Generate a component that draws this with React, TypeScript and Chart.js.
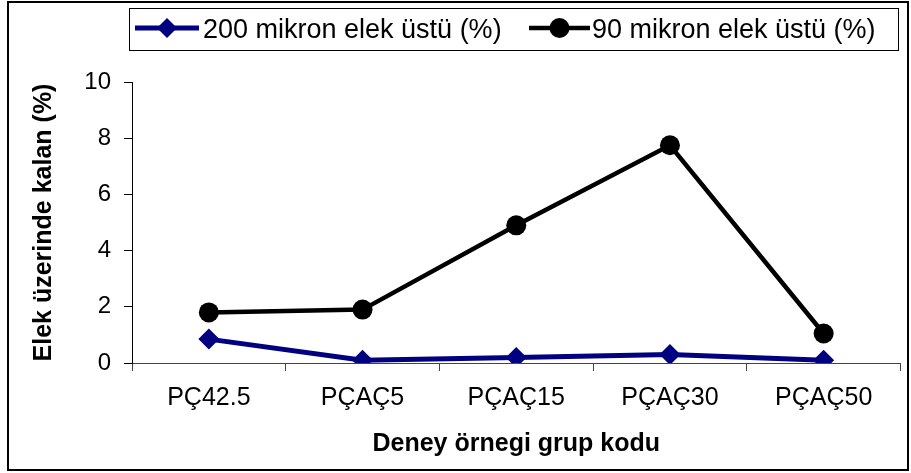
import React, { useEffect, useRef } from 'react';
import { Chart, registerables } from 'chart.js';

Chart.register(...registerables);

const categories = ['PÇ42.5', 'PÇAÇ5', 'PÇAÇ15', 'PÇAÇ30', 'PÇAÇ50'];
const series200 = [0.85, 0.1, 0.2, 0.3, 0.1];
const series90 = [1.8, 1.9, 4.9, 7.75, 1.05];
const seriesLabels = ['200 mikron elek üstü (%)', '90 mikron elek üstü (%)'];
const yTicks = [0, 2, 4, 6, 8, 10];
const xTitle = 'Deney örnegi grup kodu';
const yTitle = 'Elek üzerinde kalan (%)';

const FONT = "'Liberation Sans', Arial, sans-serif";

const framePlugin = {
  id: 'frame',
  beforeDraw(chart: any) {
    const ctx = chart.ctx;
    ctx.save();
    ctx.strokeStyle = '#000';
    ctx.lineWidth = 2;
    ctx.strokeRect(8, 2, 900, 468);
    ctx.restore();
  },
};

function drawMarker(ctx: CanvasRenderingContext2D, style: string, x: number, y: number, r: number, color: string) {
  ctx.fillStyle = color;
  ctx.beginPath();
  if (style === 'circle') {
    ctx.arc(x, y, r, 0, Math.PI * 2);
  } else {
    ctx.moveTo(x, y - r);
    ctx.lineTo(x + r, y);
    ctx.lineTo(x, y + r);
    ctx.lineTo(x - r, y);
    ctx.closePath();
  }
  ctx.fill();
}

const legendPlugin = {
  id: 'customLegend',
  afterDraw(chart: any) {
    const ctx = chart.ctx;
    ctx.save();
    ctx.strokeStyle = '#000';
    ctx.lineWidth = 1;
    ctx.strokeRect(129.5, 8.5, 769, 42);
    const items = [
      { x0: 135, x1: 199, tx: 203 },
      { x0: 529, x1: 590, tx: 592 },
    ];
    const cy = 28;
    chart.data.datasets.forEach((ds: any, i: number) => {
      const it = items[i];
      ctx.strokeStyle = ds.borderColor;
      ctx.lineWidth = ds.borderWidth;
      ctx.beginPath();
      ctx.moveTo(it.x0, cy);
      ctx.lineTo(it.x1, cy);
      ctx.stroke();
      drawMarker(ctx, ds.pointStyle, (it.x0 + it.x1) / 2, cy, 10, ds.borderColor);
      ctx.fillStyle = '#000';
      ctx.font = `27px ${FONT}`;
      ctx.textBaseline = 'alphabetic';
      ctx.textAlign = 'left';
      ctx.fillText(ds.label, it.tx, 38);
    });
    ctx.restore();
  },
};

export default function App() {
  const ref = useRef<HTMLCanvasElement>(null);
  useEffect(() => {
    if (!ref.current) return;
    const chart = new Chart(ref.current, {
      type: 'line',
      data: {
        labels: categories,
        datasets: [
          {
            label: seriesLabels[0],
            data: series200,
            borderColor: '#000080',
            backgroundColor: '#000080',
            borderWidth: 5,
            pointStyle: 'rectRot',
            pointRadius: 10.5,
            pointHoverRadius: 10.5,
            pointBackgroundColor: '#000080',
            pointBorderColor: '#000080',
            pointBorderWidth: 0,
            tension: 0,
          },
          {
            label: seriesLabels[1],
            data: series90,
            borderColor: '#000000',
            backgroundColor: '#000000',
            borderWidth: 4.5,
            pointStyle: 'circle',
            pointRadius: 10,
            pointHoverRadius: 10,
            pointBackgroundColor: '#000000',
            pointBorderColor: '#000000',
            pointBorderWidth: 0,
            tension: 0,
          },
        ],
      },
      options: {
        animation: false,
        responsive: true,
        maintainAspectRatio: false,
        layout: { padding: { left: 0, right: 8, top: 82, bottom: 0 } },
        plugins: {
          legend: { display: false },
          tooltip: { enabled: false },
          title: { display: false },
        },
        scales: {
          x: {
            type: 'category',
            offset: true,
            grid: {
              display: true,
              drawOnChartArea: false,
              drawTicks: true,
              tickLength: 8,
              offset: true,
              color: '#444',
              lineWidth: 1,
            },
            border: { display: true, color: '#444', width: 1 },
            ticks: {
              color: '#000',
              font: { family: FONT, size: 25 },
              padding: 12,
              maxRotation: 0,
              autoSkip: false,
            },
            title: {
              display: true,
              text: xTitle,
              color: '#000',
              font: { family: FONT, size: 25, weight: 'bold' },
              padding: { top: 0, bottom: 14 },
            },
            afterFit(scale: any) {
              scale.height = 110;
            },
          },
          y: {
            min: 0,
            max: 10,
            grid: {
              display: true,
              drawOnChartArea: false,
              drawTicks: true,
              tickLength: 8,
              color: '#000',
              lineWidth: 1,
            },
            border: { display: true, color: '#000', width: 1 },
            ticks: {
              color: '#000',
              font: { family: FONT, size: 24 },
              padding: 13,
            },
            afterBuildTicks(scale: any) {
              scale.ticks = yTicks.map((v) => ({ value: v }));
            },
            title: {
              display: true,
              text: yTitle,
              color: '#000',
              font: { family: FONT, size: 25, weight: 'bold' },
              padding: { top: 29, bottom: 0 },
            },
            afterFit(scale: any) {
              scale.width = 132;
            },
          },
        },
      },
      plugins: [framePlugin, legendPlugin],
    });
    return () => chart.destroy();
  }, []);
  return (
    <div style={{ position: 'fixed', left: 0, top: 0, width: 911, height: 473, background: '#fff' }}>
      <canvas ref={ref} />
    </div>
  );
}
